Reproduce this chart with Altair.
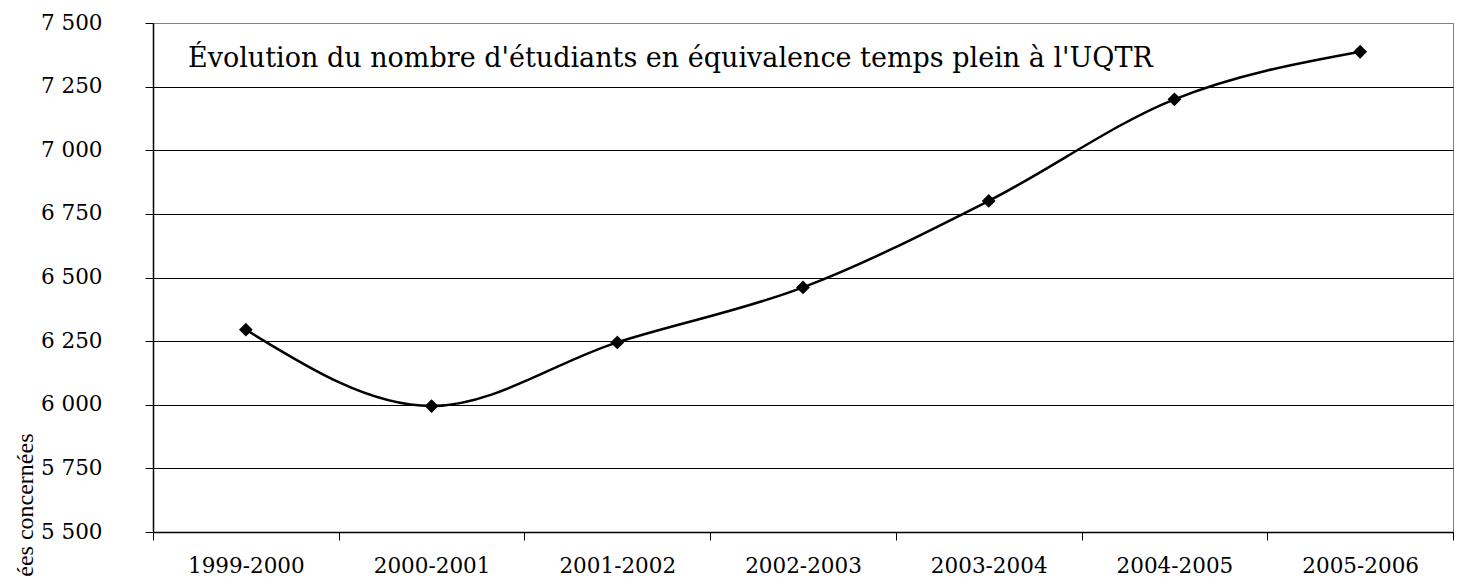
import altair as alt
import pandas as pd

YEARS = ["1999-2000", "2000-2001", "2001-2002", "2002-2003", "2003-2004", "2004-2005", "2005-2006"]
ETP = [6295, 5995, 6245, 6461, 6801, 7200, 7387]
Y_TICKS = [5500, 5750, 6000, 6250, 6500, 6750, 7000, 7250, 7500]
TITLE = ["Évolution du nombre d'étudiants en équivalence temps plein à l'UQTR"]
Y_TITLE = "Années concernées"

df = pd.DataFrame({"annee": YEARS, "etp": ETP})
tdf = pd.DataFrame({"t": TITLE})

x = alt.X(
    "annee:N",
    sort=YEARS,
    scale=alt.Scale(type="band", paddingInner=0, paddingOuter=0),
    axis=alt.Axis(
        title=None, labelAngle=0, tickBand="extent", tickSize=8, labelPadding=15,
        labelFont="DejaVu Serif", labelFontSize=21.5, labelColor="black",
        domainColor="black", domainWidth=1.5, tickColor="black", tickWidth=1, grid=False,
    ),
)
y = alt.Y(
    "etp:Q",
    scale=alt.Scale(domain=[5500, 7500], nice=False, zero=False),
    axis=alt.Axis(
        values=Y_TICKS,
        labelExpr="replace(format(datum.value, ','), ',', ' ')",
        tickSize=8, labelPadding=43,
        labelFont="DejaVu Serif", labelFontSize=21.5, labelColor="black",
        domainColor="black", domainWidth=1.5, tickColor="black", tickWidth=1,
        grid=True,
        gridColor={"condition": {"test": "datum.value === 7500", "value": "#808080"}, "value": "black"},
        gridWidth=1,
        title=Y_TITLE, titleAngle=270, titleAlign="right", titleBaseline="alphabetic",
        titleX=-121, titleY=410, titleFont="Liberation Serif", titleFontSize=24,
        titleFontWeight="normal", titleColor="black",
    ),
)

line = alt.Chart(df).mark_line(interpolate="monotone", color="black", strokeWidth=2.5).encode(x=x, y=y)
pts = alt.Chart(df).mark_point(shape="diamond", filled=True, size=190, color="black", opacity=1).encode(x=x, y=y)
title = alt.Chart(tdf).mark_text(
    align="left", baseline="alphabetic", font="DejaVu Serif", fontSize=27, color="black"
).encode(text="t:N", x=alt.value(35), y=alt.value(44))

chart = (
    alt.layer(line, pts, title)
    .properties(
        width=1300, height=509,
        autosize=alt.AutoSizeParams(type="none"),
        padding={"left": 145, "top": 15, "right": 2, "bottom": 45},
        background="white",
    )
    .configure_view(stroke="#808080", strokeWidth=1)
)

chart.save("out.html", embed_options={"renderer": "svg", "actions": False})
